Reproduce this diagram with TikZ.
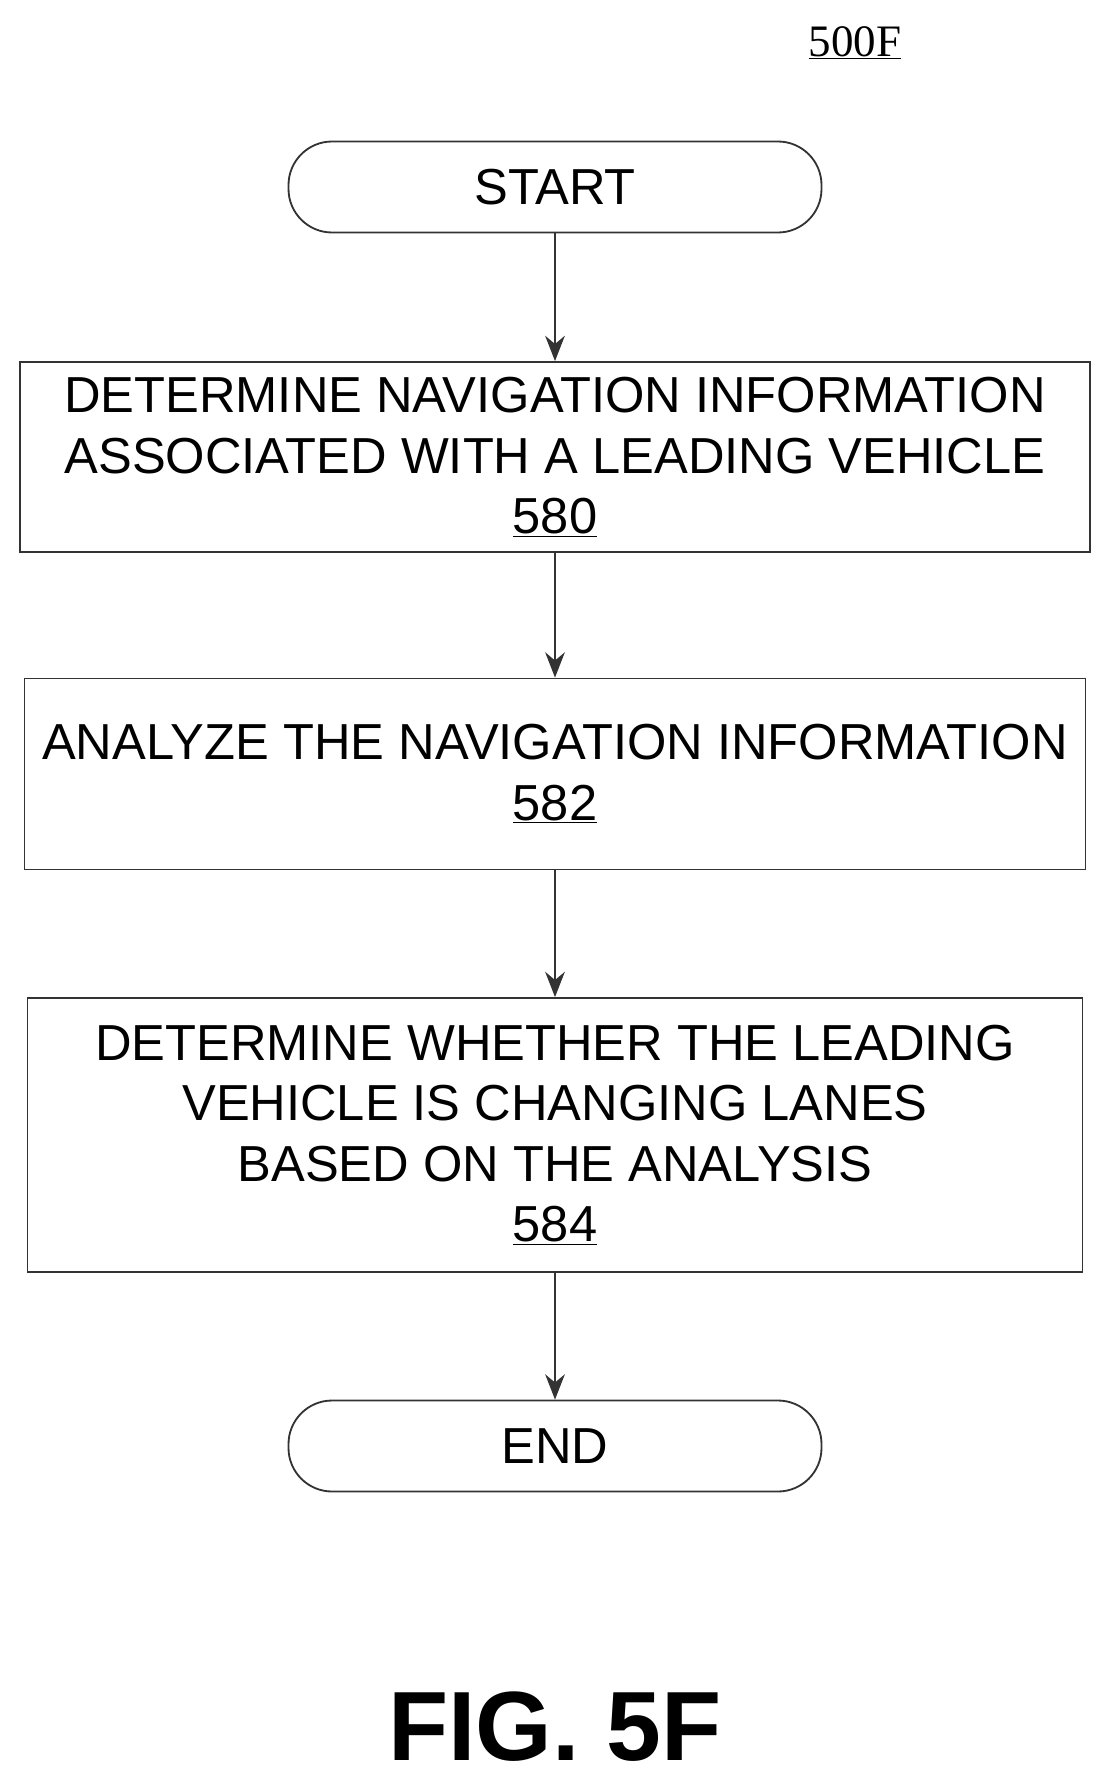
\documentclass[tikz,border=0pt]{standalone}
\usepackage{fontspec}
\setmainfont{Liberation Sans}
\newfontfamily\serifnum{Liberation Serif}
\usetikzlibrary{arrows.meta}
\begin{document}
\begin{tikzpicture}[x=0.025cm,y=-0.025cm,
  box/.style={draw=black!80,line width=1.3pt,inner sep=0pt,align=center,font=\fontsize{36}{43}\selectfont},
  arr/.style={draw=black!80,line width=1.3pt,-{Stealth[length=18pt,width=14pt]}}]
\useasboundingbox (0,0) rectangle (1109,1780);
\node[font=\serifnum\fontsize{32}{36}\selectfont] (lbl) at (855,43) {\underline{500F}};
\node[box,rounded corners=31pt,minimum width=533*0.025cm,minimum height=91*0.025cm] (s) at (555,187) {START};
\node[box,minimum width=1070*0.025cm,minimum height=190*0.025cm] (a) at (555,457) {DETERMINE NAVIGATION INFORMATION\\ASSOCIATED WITH A LEADING VEHICLE\\\underline{580}};
\node[box,minimum width=1061*0.025cm,minimum height=191*0.025cm] (b) at (555,774) {ANALYZE THE NAVIGATION INFORMATION\\\underline{582}};
\node[box,minimum width=1055*0.025cm,minimum height=274*0.025cm] (c) at (555,1135) {DETERMINE WHETHER THE LEADING\\VEHICLE IS CHANGING LANES\\BASED ON THE ANALYSIS\\\underline{584}};
\node[box,rounded corners=31pt,minimum width=533*0.025cm,minimum height=91*0.025cm] (e) at (555,1446) {END};
\node[font=\bfseries\fontsize{70}{80}\selectfont] (fig) at (555,1727) {FIG. 5F};
\draw[arr] (s) -- (a);
\draw[arr] (a) -- (b);
\draw[arr] (b) -- (c);
\draw[arr] (c) -- (e);
\end{tikzpicture}
\end{document}
